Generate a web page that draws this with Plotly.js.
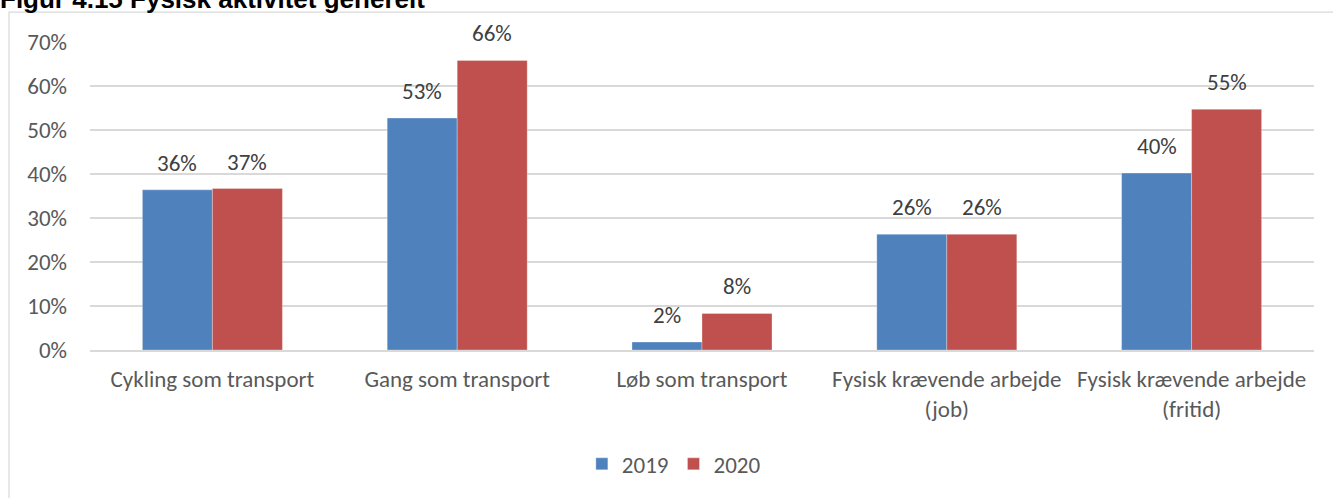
<!DOCTYPE html>
<html>
<head>
<meta charset="utf-8">
<script src="https://cdn.plot.ly/plotly-3.0.1.min.js"></script>
<style>html,body{margin:0;padding:0;background:#fff;}#chart{width:1333px;height:498px;}</style>
</head>
<body>
<div id="chart"></div>
<script>
const categories = ["Cykling som transport", "Gang som transport", "Løb som transport", "Fysisk krævende arbejde<br>(job)", "Fysisk krævende arbejde<br>(fritid)"];
const values2019 = [0.364, 0.527, 0.018, 0.263, 0.402];
const values2020 = [0.367, 0.658, 0.083, 0.263, 0.547];
const seriesNames = ["2019", "2020"];
const yTickVals = [0, 0.1, 0.2, 0.3, 0.4, 0.5, 0.6, 0.7];
const yTickText = ["0%", "10%", "20%", "30%", "40%", "50%", "60%", "70%"];
const titleText = "Figur 4.15 Fysisk aktivitet generelt";

const FONT = "Carlito, Lato, 'Liberation Sans', sans-serif";
const FS = 23;
const colors = ["#4f81bd", "#c0504d"];

const traces = [values2019, values2020].map((vals, i) => ({
  type: "bar",
  name: seriesNames[i],
  x: categories,
  y: vals,
  marker: {color: colors[i], line: {color: "rgba(255,255,255,0.5)", width: 0.6}},
  hoverinfo: "skip"
}));

const annotations = [];
[values2019, values2020].forEach((vals, i) => {
  vals.forEach((v, j) => {
    annotations.push({
      x: categories[j], y: v, xref: "x", yref: "y",
      text: Math.round(v * 100) + "%",
      showarrow: false, xshift: i === 0 ? -35 : 35, yshift: 27,
      font: {family: FONT, size: FS, color: "#404040"}
    });
  });
});
annotations.push({
  x: 0, y: 1, xref: "paper", yref: "paper", xanchor: "left", yanchor: "bottom",
  text: "<b>" + titleText + "</b>", showarrow: false,
  xshift: -92, yshift: 26,
  font: {family: "Arial, 'Liberation Sans', sans-serif", size: 26, color: "#000"}
});

const layout = {
  width: 1333, height: 498,
  margin: {l: 90, r: 19, t: 42, b: 146, pad: 0},
  paper_bgcolor: "#fff", plot_bgcolor: "#fff",
  barmode: "group", bargap: 0.428, bargroupgap: 0,
  font: {family: FONT, size: FS, color: "#595959"},
  xaxis: {
    type: "category", showgrid: false, zeroline: false,
    showline: true, linecolor: "#d9d9d9", linewidth: 1.5,
    ticks: "", ticklabelstandoff: 8,
    tickfont: {family: FONT, size: FS, color: "#595959"}
  },
  yaxis: {
    range: [0, 0.7], tickvals: yTickVals, ticktext: yTickText,
    showgrid: true, gridcolor: "#d9d9d9", gridwidth: 1.5,
    zeroline: false, showline: false, ticks: "", ticklabelstandoff: 22,
    tickfont: {family: FONT, size: FS, color: "#595959"}
  },
  showlegend: true,
  legend: {
    orientation: "h", x: 0.477, xanchor: "center", y: -0.3, yanchor: "top",
    font: {family: FONT, size: FS, color: "#595959"},
    itemwidth: 30, traceorder: "normal"
  },
  annotations: annotations,
  shapes: [{
    type: "rect", xref: "paper", yref: "paper",
    x0: (9 - 90) / 1224, x1: 1.05, y0: (352 - 12) / 310, y1: -0.6,
    line: {color: "#d9d9d9", width: 1.2}, fillcolor: "rgba(0,0,0,0)", layer: "below"
  }]
};

Plotly.newPlot("chart", traces, layout, {displayModeBar: false, staticPlot: true});
</script>
</body>
</html>
